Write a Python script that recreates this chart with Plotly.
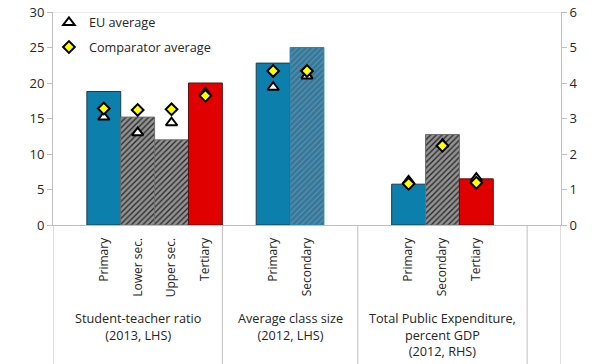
import plotly.graph_objects as go

# ---------------- data ----------------
group_labels = [
    "Student-teacher ratio<br>(2013, LHS)",
    "Average class size<br>(2012, LHS)",
    "Total Public Expenditure,<br>percent GDP<br>(2012, RHS)",
]

st_cats = ["Primary", "Lower sec.", "Upper sec.", "Tertiary"]
st_vals = [18.8, 15.2, 12.0, 20.0]
st_eu = [15.2, 13.0, 14.4, 18.6]
st_comp = [16.4, 16.2, 16.3, 18.2]

cs_cats = ["Primary", "Secondary"]
cs_vals = [22.8, 25.0]
cs_eu = [19.4, 21.0]
cs_comp = [21.7, 21.7]

ex_cats = ["Primary", "Secondary", "Tertiary"]
ex_vals = [1.15, 2.55, 1.30]
ex_eu = [1.24, 2.28, 1.32]
ex_comp = [1.16, 2.23, 1.19]

left_ticks = [0, 5, 10, 15, 20, 25, 30]
right_ticks = [0, 1, 2, 3, 4, 5, 6]

legend_names = ["EU average", "Comparator average"]

# ---------------- layout of category slots ----------------
group_spans = [5, 4, 5]   # slots per group (incl. blank slots)
lead = 1                  # blank slot before the first category of a group
total_slots = 15
starts = [sum(group_spans[:i]) for i in range(len(group_spans))]

def pos(g, n):
    return [starts[g] + lead + i for i in range(n)]

st_x = pos(0, len(st_cats))
cs_x = pos(1, len(cs_cats))
ex_x = pos(2, len(ex_cats))

BLUE = "#0C7FAD"
RED = "#E00000"
HATCH = "#262626"
LBLUE = "#3FA3D6"
FONT = "Open Sans"
TXT = "#262626"
AX = "#BFBFBF"

fig = go.Figure()

def bar(x, y, colors, shape, lines, yaxis, solidity=0.68):
    fig.add_trace(go.Bar(
        x=x, y=y, width=1, yaxis=yaxis, showlegend=False, hoverinfo="skip",
        marker=dict(
            color=colors,
            line=dict(color=lines, width=1),
            pattern=dict(shape=shape, fillmode="overlay", bgcolor="white",
                         size=4, solidity=solidity),
        ),
    ))

bar(st_x, st_vals, [BLUE, HATCH, HATCH, RED], ["", "/", "/", ""],
    ["#1E3A4C", "#6F6F6F", "#6F6F6F", "#5A1010"], "y")
bar(cs_x, cs_vals, [BLUE, LBLUE], ["", "/"],
    ["#1E3A4C", "#2E86B0"], "y", 0.75)
bar(ex_x, ex_vals, [BLUE, HATCH, RED], ["", "/", ""],
    ["#1E3A4C", "#6F6F6F", "#5A1010"], "y2")

tri = dict(symbol="triangle-up", size=10, color="white",
           line=dict(color="black", width=2))
dia = dict(symbol="diamond", size=9, color="#FFFF00",
           line=dict(color="black", width=2))

fig.add_trace(go.Scatter(x=st_x + cs_x, y=st_eu + cs_eu, mode="markers",
                         marker=tri, name=legend_names[0], yaxis="y",
                         legendgroup="a", hoverinfo="skip"))
fig.add_trace(go.Scatter(x=ex_x, y=ex_eu, mode="markers", marker=tri,
                         showlegend=False, yaxis="y2", hoverinfo="skip"))
fig.add_trace(go.Scatter(x=st_x + cs_x, y=st_comp + cs_comp, mode="markers",
                         marker=dia, name=legend_names[1], yaxis="y",
                         legendgroup="b", hoverinfo="skip"))
fig.add_trace(go.Scatter(x=ex_x, y=ex_comp, mode="markers", marker=dia,
                         showlegend=False, yaxis="y2", hoverinfo="skip"))

# separators of the category axis
bottom = -139 / 213
shapes = []
bounds = [-0.5] + [s + sp - 0.5 for s, sp in zip(starts, group_spans)] + [total_slots - 0.5]
for b in bounds:
    shapes.append(dict(type="line", xref="x", yref="paper", x0=b, x1=b,
                       y0=0, y1=bottom, line=dict(color=AX, width=1)))
shapes.append(dict(type="line", xref="paper", yref="y", x0=0, x1=1,
                   y0=left_ticks[-1], y1=left_ticks[-1],
                   line=dict(color="#D9D9D9", width=1), layer="below"))

annotations = []
for g, lab in enumerate(group_labels):
    cx = starts[g] - 0.5 + group_spans[g] / 2
    annotations.append(dict(x=cx, y=-0.385, xref="x", yref="paper",
                            text=lab, showarrow=False, yanchor="top",
                            font=dict(family=FONT, size=12.7, color=TXT)))

fig.update_layout(
    width=594, height=364,
    margin=dict(l=53, r=33, t=12, b=139, autoexpand=False),
    paper_bgcolor="white", plot_bgcolor="white",
    barmode="overlay",
    font=dict(family=FONT, size=13, color=TXT),
    shapes=shapes, annotations=annotations,
    legend=dict(x=-0.008, y=1.02, xanchor="left", yanchor="top",
                font=dict(family=FONT, size=12.7, color=TXT),
                bgcolor="rgba(0,0,0,0)", tracegroupgap=5,
                itemwidth=30),
    xaxis=dict(range=[-0.5, total_slots - 0.5],
               tickvals=st_x + cs_x + ex_x,
               ticktext=st_cats + cs_cats + ex_cats,
               tickangle=-90, ticks="", showline=True, linecolor=AX,
               showgrid=False, zeroline=False, automargin=False,
               tickfont=dict(family=FONT, size=12, color=TXT),
               ticklabelstandoff=7),
    yaxis=dict(range=[0, 30], tickvals=left_ticks, ticks="outside",
               ticklen=5, tickcolor=AX, showline=True, linecolor=AX,
               showgrid=False, zeroline=False, automargin=False,
               tickfont=dict(family=FONT, size=13, color=TXT)),
    yaxis2=dict(range=[0, 6], tickvals=right_ticks, overlaying="y",
                side="right", ticks="outside", ticklen=5, tickcolor=AX,
                showline=True, linecolor=AX, showgrid=False, zeroline=False,
                automargin=False,
                tickfont=dict(family=FONT, size=13, color=TXT)),
)

# remove the browser's default 8px page margin so the figure fills the window
fig.write_html("out.html", config={"displayModeBar": False},
               post_script="document.body.style.margin='0';")
